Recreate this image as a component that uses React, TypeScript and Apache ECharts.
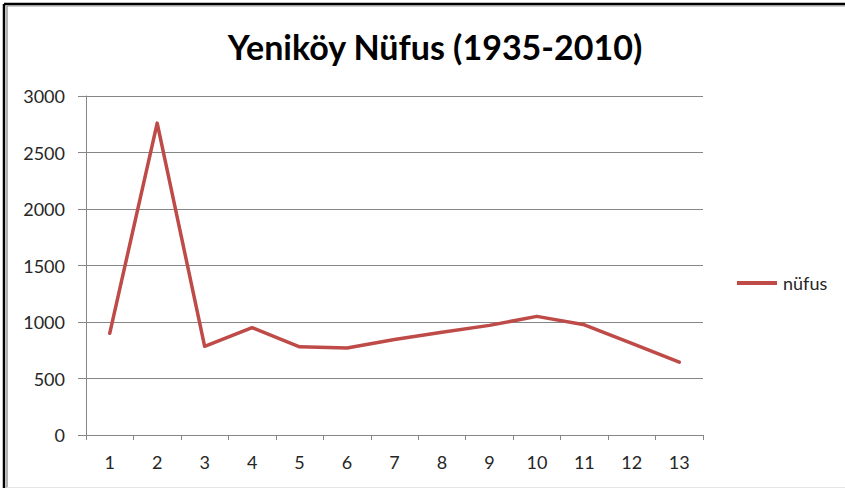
import React, { useEffect, useRef } from "react";
import * as echarts from "echarts";

const titleText = "Yeniköy Nüfus (1935-2010)";
const seriesName = "nüfus";
const categories = ["1", "2", "3", "4", "5", "6", "7", "8", "9", "10", "11", "12", "13"];
const nufus = [900, 2760, 785, 950, 780, 770, 845, 910, 970, 1050, 975, 810, 645];
const yMin = 0;
const yMax = 3000;
const yStep = 500;

export default function App() {
  const ref = useRef<HTMLDivElement>(null);
  useEffect(() => {
    if (!ref.current) return;
    const chart = echarts.init(ref.current, null, { renderer: "svg" });
    const font = "Lato";
    chart.setOption({
      animation: false,
      backgroundColor: "#ffffff",
      title: {
        text: titleText,
        left: 430,
        top: 24,
        textAlign: "center",
        textStyle: { fontFamily: font, fontWeight: "bold", fontSize: 34, color: "#000" },
      },
      legend: {
        data: [{ name: seriesName, icon: "path://M0,0 L10,0 L10,1 L0,1 Z" }],
        left: 732,
        top: 269,
        itemWidth: 46,
        itemHeight: 4,
        itemGap: 4,
        textStyle: { fontFamily: font, fontSize: 18, color: "#262626", padding: [0, 0, 0, -2] },
      },
      grid: { left: 86, right: 142, top: 96, bottom: 53, containLabel: false },
      xAxis: {
        type: "category",
        data: categories,
        boundaryGap: true,
        axisLine: { lineStyle: { color: "#868686", width: 1 } },
        axisTick: { show: true, alignWithLabel: false, length: 5, lineStyle: { color: "#868686" } },
        axisLabel: { fontFamily: font, fontSize: 18, color: "#262626", margin: 18 },
        splitLine: { show: false },
      },
      yAxis: {
        type: "value",
        min: yMin,
        max: yMax,
        interval: yStep,
        axisLine: { show: true, lineStyle: { color: "#868686", width: 1 } },
        axisTick: { show: true, length: 8, lineStyle: { color: "#868686" } },
        axisLabel: {
          fontFamily: font,
          fontSize: 18,
          color: "#262626",
          margin: 21,
          formatter: (v: number) => String(v),
        },
        splitLine: { show: true, lineStyle: { color: "#868686", width: 1 } },
      },
      series: [
        {
          name: seriesName,
          type: "line",
          data: nufus,
          symbol: "none",
          lineStyle: { color: "#BE4B48", width: 3.5, cap: "round", join: "round" },
          itemStyle: { color: "#BE4B48" },
        },
      ],
      graphic: [
        { type: "line", shape: { x1: 4, y1: 4, x2: 845, y2: 4 }, style: { stroke: "#000", lineWidth: 2.5 } },
        { type: "line", shape: { x1: 4, y1: 4, x2: 4, y2: 488 }, style: { stroke: "#000", lineWidth: 2.5 } },
        { type: "line", shape: { x1: 7, y1: 5.8, x2: 845, y2: 5.8 }, style: { stroke: "#9a9a9a", lineWidth: 1.2 } },
        { type: "line", shape: { x1: 7, y1: 6, x2: 7, y2: 488 }, style: { stroke: "#9a9a9a", lineWidth: 1.5 } },
        { type: "line", shape: { x1: 7, y1: 487.5, x2: 845, y2: 487.5 }, style: { stroke: "#e6e6e6", lineWidth: 1 } },
      ],
    });
    return () => chart.dispose();
  }, []);
  return <div ref={ref} style={{ width: 845, height: 488, position: "absolute", left: 0, top: 0 }} />;
}
